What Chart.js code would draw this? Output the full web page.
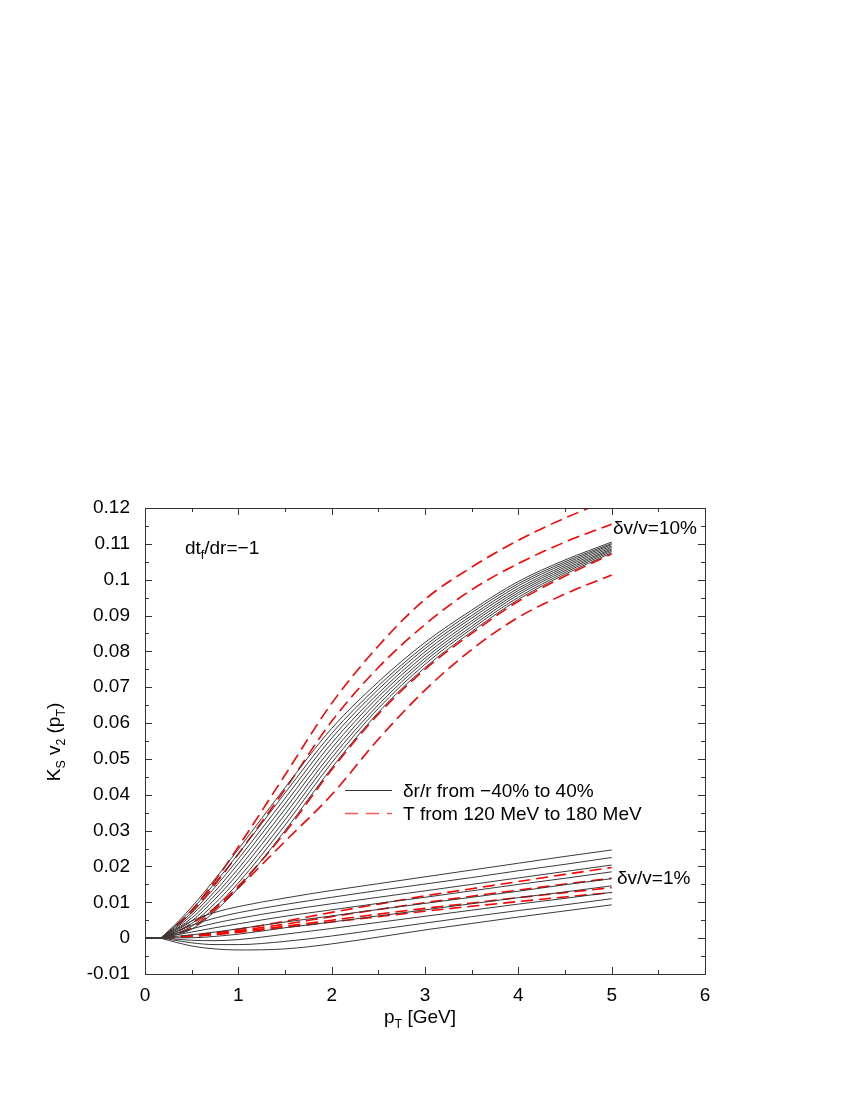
<!DOCTYPE html>
<html>
<head>
<meta charset="utf-8">
<script src="https://cdn.jsdelivr.net/npm/chart.js@4.4.1/dist/chart.umd.min.js"></script>
<style>
  body { margin: 0; background: #fff; }
  #graf { display: block; }
</style>
</head>
<body>
<canvas id="graf" width="850" height="1100" style="width:850px;height:1100px"></canvas>
<script>
// p_T sample points [GeV]
const pt = [0, 0.15, 0.25, 0.5, 0.75, 1, 1.5, 2, 2.5, 3, 3.5, 4, 4.5, 5];

// dv/v = 10%, dr/r from -40% to 40% (solid)
const alto_r = [
  [0, 0, 0.0020, 0.0087, 0.0165, 0.0248, 0.0420, 0.0585, 0.0715, 0.0825, 0.0915, 0.0995, 0.1055, 0.1105],
  [0, 0, 0.0018, 0.0079, 0.0154, 0.0235, 0.0405, 0.0571, 0.0704, 0.0816, 0.0908, 0.0989, 0.1050, 0.1101],
  [0, 0, 0.0016, 0.0071, 0.0142, 0.0221, 0.0390, 0.0558, 0.0694, 0.0808, 0.0900, 0.0983, 0.1045, 0.1098],
  [0, 0, 0.0014, 0.0064, 0.0131, 0.0208, 0.0375, 0.0544, 0.0683, 0.0799, 0.0893, 0.0976, 0.1040, 0.1094],
  [0, 0, 0.0013, 0.0056, 0.0120, 0.0194, 0.0360, 0.0530, 0.0673, 0.0790, 0.0885, 0.0970, 0.1035, 0.1090],
  [0, 0, 0.0011, 0.0048, 0.0109, 0.0181, 0.0345, 0.0516, 0.0662, 0.0781, 0.0878, 0.0964, 0.1030, 0.1086],
  [0, 0, 0.0009, 0.0041, 0.0097, 0.0167, 0.0330, 0.0503, 0.0651, 0.0773, 0.0870, 0.0958, 0.1025, 0.1083],
  [0, 0, 0.0007, 0.0033, 0.0086, 0.0154, 0.0315, 0.0489, 0.0641, 0.0764, 0.0863, 0.0951, 0.1020, 0.1079],
  [0, 0, 0.0005, 0.0025, 0.0075, 0.0140, 0.0300, 0.0475, 0.0630, 0.0755, 0.0855, 0.0945, 0.1015, 0.1075],
];

// dv/v = 10%, T from 120 to 180 MeV (dashed)
const alto_T = [
  [0, 0, 0.0017, 0.0078, 0.0160, 0.0255, 0.0455, 0.0655, 0.0815, 0.0945, 0.1035, 0.1110, 0.1172, 0.1225],
  [0, 0, 0.0016, 0.0072, 0.0150, 0.0235, 0.0415, 0.0605, 0.0755, 0.0875, 0.0972, 0.1045, 0.1105, 0.1155],
  [0, 0, 0.0008, 0.0040, 0.0085, 0.0145, 0.0295, 0.0470, 0.0625, 0.0750, 0.0850, 0.0940, 0.1010, 0.1072],
  [0, 0, 0.0006, 0.0028, 0.0080, 0.0140, 0.0270, 0.0400, 0.0555, 0.0692, 0.0805, 0.0895, 0.0960, 0.1013],
];

// dv/v = 1%, dr/r from -40% to 40% (solid)
const bajo_r = [
  [0, 0, 0.0012, 0.0048, 0.0072, 0.0088, 0.0112, 0.0133, 0.0152, 0.0171, 0.0190, 0.0209, 0.0228, 0.0246],
  [0, 0, 0.0009, 0.0036, 0.0056, 0.0071, 0.0094, 0.0114, 0.0133, 0.0151, 0.0169, 0.0188, 0.0206, 0.0225],
  [0, 0, 0.0007, 0.0026, 0.0042, 0.0055, 0.0077, 0.0096, 0.0114, 0.0132, 0.0150, 0.0168, 0.0186, 0.0204],
  [0, 0, 0.0005, 0.0017, 0.0029, 0.0040, 0.0061, 0.0079, 0.0097, 0.0114, 0.0132, 0.0150, 0.0167, 0.0185],
  [0, 0, 0.0003, 0.0009, 0.0017, 0.0026, 0.0045, 0.0062, 0.0080, 0.0097, 0.0114, 0.0131, 0.0149, 0.0166],
  [0, 0, 0.0001, 0.0001, 0.0005, 0.0011, 0.0029, 0.0045, 0.0062, 0.0079, 0.0096, 0.0113, 0.0129, 0.0146],
  [0, 0, -0.0001, -0.0006, -0.0007, -0.0004, 0.0011, 0.0027, 0.0044, 0.0061, 0.0078, 0.0095, 0.0111, 0.0128],
  [0, 0, -0.0003, -0.0013, -0.0018, -0.0018, -0.0009, 0.0006, 0.0024, 0.0042, 0.0060, 0.0077, 0.0093, 0.0110],
  [0, 0, -0.0006, -0.0022, -0.0030, -0.0033, -0.0030, -0.0016, 0.0003, 0.0023, 0.0041, 0.0059, 0.0076, 0.0093],
];

// dv/v = 1%, T from 120 to 180 MeV (dashed)
const bajo_T = [
  [0, 0, 0.0002, 0.0008, 0.0015, 0.0025, 0.0047, 0.0072, 0.0095, 0.0118, 0.0138, 0.0158, 0.0178, 0.0197],
  [0, 0, 0.0002, 0.0007, 0.0013, 0.0021, 0.0039, 0.0060, 0.0080, 0.0099, 0.0117, 0.0134, 0.0151, 0.0167],
  [0, 0, 0.0001, 0.0006, 0.0011, 0.0018, 0.0033, 0.0050, 0.0067, 0.0083, 0.0098, 0.0113, 0.0127, 0.0141],
  [0, 0, 0.0001, 0.0005, 0.0010, 0.0016, 0.0030, 0.0045, 0.0060, 0.0075, 0.0089, 0.0102, 0.0115, 0.0127],
];

const ticks_x = [0, 1, 2, 3, 4, 5, 6];
const menores_x = [0.5, 1.5, 2.5, 3.5, 4.5, 5.5];

const fuente = "'Liberation Sans', Arial, sans-serif";

const linea = (ys, rojo) => ({
  data: ys.map((y, i) => ({ x: pt[i], y })),
  borderColor: rojo ? "#ff0000" : "#3a3a3a",
  borderWidth: rojo ? 1.6 : 1,
  borderDash: rojo ? [12, 6] : [],
  cubicInterpolationMode: "monotone",
  pointRadius: 0,
  fill: false,
});

const datasets = [
  ...alto_r.map((d) => linea(d, false)),
  ...bajo_r.map((d) => linea(d, false)),
  ...alto_T.map((d) => linea(d, true)),
  ...bajo_T.map((d) => linea(d, true)),
];

// texto con subindices
function texto(ctx, partes, x, y, size) {
  let cx = x;
  partes.forEach(([t, sub]) => {
    const s = sub ? size * 0.65 : size;
    ctx.font = s + "px " + fuente;
    ctx.fillText(t, cx, sub ? y + size * 0.28 : y);
    cx += ctx.measureText(t).width;
  });
  return cx - x;
}

function ancho(ctx, partes, size) {
  let w = 0;
  partes.forEach(([t, sub]) => {
    ctx.font = (sub ? size * 0.65 : size) + "px " + fuente;
    w += ctx.measureText(t).width;
  });
  return w;
}

const marco = {
  id: "marco",
  afterDraw(chart) {
    const { ctx, chartArea: a, scales } = chart;
    const sx = scales.x, sy = scales.y;
    ctx.save();
    ctx.strokeStyle = "#333";
    ctx.lineWidth = 1;
    ctx.strokeRect(a.left + 0.5, a.top + 0.5, a.right - a.left, a.bottom - a.top);

    ctx.beginPath();
    const tx = (v, l) => {
      const p = Math.round(sx.getPixelForValue(v)) + 0.5;
      ctx.moveTo(p, a.bottom); ctx.lineTo(p, a.bottom - l);
      ctx.moveTo(p, a.top); ctx.lineTo(p, a.top + l);
    };
    const ty = (v, l) => {
      const p = Math.round(sy.getPixelForValue(v)) + 0.5;
      ctx.moveTo(a.left, p); ctx.lineTo(a.left + l, p);
      ctx.moveTo(a.right, p); ctx.lineTo(a.right - l, p);
    };
    ticks_x.forEach((v) => tx(v, 7));
    menores_x.forEach((v) => tx(v, 4));
    sy.ticks.forEach((t) => {
      ty(t.value, 7);
      if (t.value < 0.12) ty(t.value + 0.005, 4);
    });
    ctx.stroke();

    ctx.fillStyle = "#000";
    ctx.textBaseline = "alphabetic";
    ctx.textAlign = "left";
    const T = 19;

    // anotaciones
    texto(ctx, [["dt"], ["f", true], ["/dr=\u22121"]], 185, 554, T);
    texto(ctx, [["\u03B4v/v=10%"]], 613, 534, T);
    texto(ctx, [["\u03B4v/v=1%"]], 617, 884, T);

    // leyenda
    ctx.strokeStyle = "#333";
    ctx.lineWidth = 1;
    ctx.beginPath();
    ctx.moveTo(345, 790.5); ctx.lineTo(392, 790.5);
    ctx.stroke();
    ctx.strokeStyle = "#ff5555";
    ctx.lineWidth = 1.6;
    ctx.setLineDash([13, 8]);
    ctx.beginPath();
    ctx.moveTo(345, 813.5); ctx.lineTo(392, 813.5);
    ctx.stroke();
    ctx.setLineDash([]);
    texto(ctx, [["\u03B4r/r from \u221240% to 40%"]], 403, 797, T);
    texto(ctx, [["T from 120 MeV to 180 MeV"]], 403, 820, T);

    // titulo eje x
    const px = [["p"], ["T", true], [" [GeV]"]];
    texto(ctx, px, 420 - ancho(ctx, px, T) / 2, 1023, T);

    // titulo eje y
    const py = [["K"], ["S", true], [" v"], ["2", true], [" (p"], ["T", true], [")"]];
    ctx.translate(60, 742);
    ctx.rotate(-Math.PI / 2);
    texto(ctx, py, -ancho(ctx, py, T) / 2, 0, T);
    ctx.restore();
  },
};

const ctx = document.getElementById("graf").getContext("2d");

new Chart(ctx, {
  type: "line",
  data: { datasets },
  options: {
    responsive: false,
    animation: false,
    layout: { padding: { left: 0, top: 508, right: 145, bottom: 0 } },
    plugins: {
      legend: { display: false },
      tooltip: { enabled: false },
    },
    scales: {
      x: {
        type: "linear",
        min: 0,
        max: 6,
        ticks: { stepSize: 1, color: "#000", padding: 2, font: { family: fuente, size: 19 } },
        grid: { display: false },
        border: { display: false },
        afterFit(s) { s.height = 126; },
      },
      y: {
        min: -0.01,
        max: 0.12,
        ticks: {
          stepSize: 0.01,
          color: "#000",
          padding: 7,
          font: { family: fuente, size: 19 },
          callback: (v) => String(Math.round(v * 100) / 100),
        },
        grid: { display: false },
        border: { display: false },
        afterFit(s) { s.width = 145; },
      },
    },
  },
  plugins: [marco],
});
</script>
</body>
</html>
